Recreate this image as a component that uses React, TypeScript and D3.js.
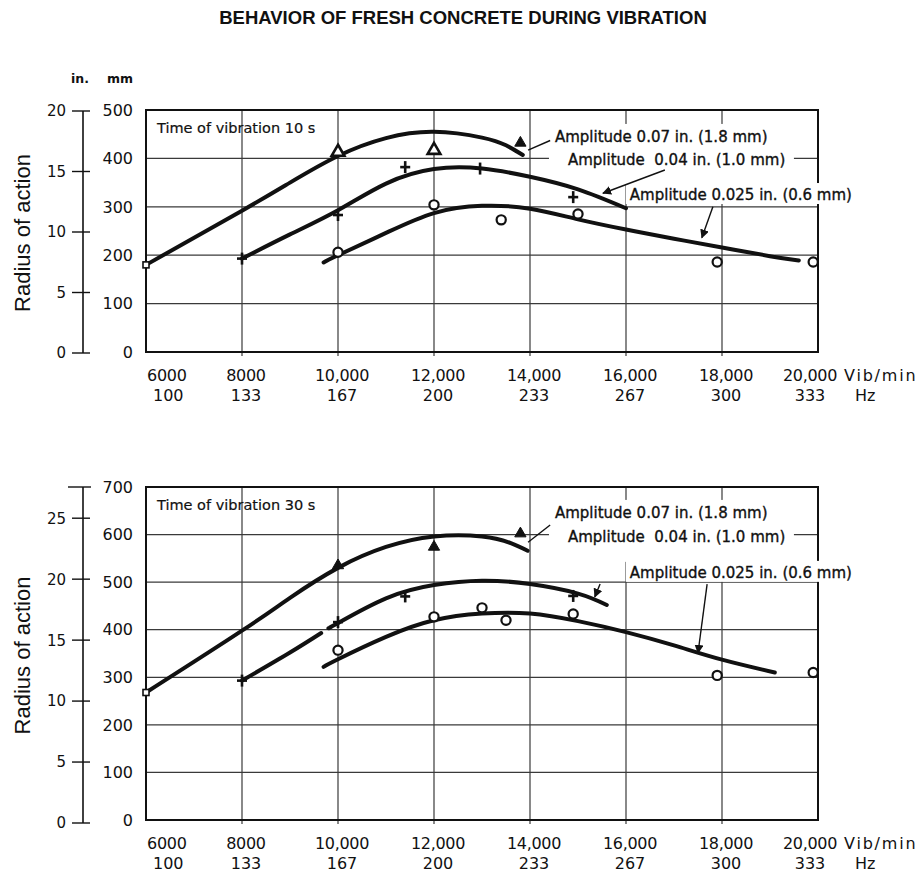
import React from 'react';
import * as d3 from 'd3';

type P = [number, number];

// ---------- axes ----------
const VIB_TICKS = [6000, 8000, 10000, 12000, 14000, 16000, 18000, 20000];
const VIB_LABELS = ['6000', '8000', '10,000', '12,000', '14,000', '16,000', '18,000', '20,000'];
const HZ_LABELS = ['100', '133', '167', '200', '233', '267', '300', '333'];
const GRID_VIB = [8000, 10000, 12000, 14000, 16000, 18000];

const MM_TICKS_10 = [0, 100, 200, 300, 400, 500];
const IN_TICKS_10 = [0, 5, 10, 15, 20];
const MM_TICKS_30 = [0, 100, 200, 300, 400, 500, 600, 700];
const IN_TICKS_30 = [0, 5, 10, 15, 20, 25];

const AMP_LABELS = ['Amplitude 0.07 in. (1.8 mm)', 'Amplitude  0.04 in. (1.0 mm)', 'Amplitude 0.025 in. (0.6 mm)'];

// ---------- Time of vibration 10 s ----------
const CURVE_07_10: P[] = [[6000, 180], [8000, 292], [9000, 350], [10000, 405], [11000, 442], [12000, 455], [13000, 443], [13500, 427], [13850, 407]];
const CURVE_04_10: P[] = [[8000, 193], [9000, 243], [10000, 293], [11000, 348], [12000, 378], [13000, 379], [14000, 362], [15000, 336], [16000, 297]];
const CURVE_025_10: P[] = [[9700, 185], [10000, 200], [11000, 246], [12000, 287], [13000, 302], [14000, 296], [15000, 274], [16000, 253], [17000, 234], [18000, 216], [19000, 198], [19600, 189]];
const SQUARE_10: P[] = [[6000, 180]];
const TRI_OPEN_10: P[] = [[10000, 413], [12000, 417]];
const TRI_FILLED_10: P[] = [[13800, 432]];
const PLUS_10: P[] = [[8000, 193], [10000, 283], [11400, 382], [12960, 379], [14900, 320]];
const CIRCLE_10: P[] = [[10000, 206], [12000, 304], [13400, 273], [15000, 285], [17900, 186], [19900, 186]];
const LABEL_POS_10: P[] = [[14520, 434], [14790, 386], [16080, 314]];
const ARROW_FROM_10: P[] = [[14420, 437], [16810, 376], [17810, 300]];
const ARROW_TO_10: P[] = [[13960, 417], [15520, 328], [17580, 236]];

// ---------- Time of vibration 30 s ----------
const CURVE_07_30: P[] = [[6000, 268], [8000, 398], [9000, 467], [10000, 530], [11000, 574], [12000, 596], [13000, 596], [13600, 582], [13950, 566]];
const CURVE_04_30_A: P[] = [[8000, 293], [9000, 352], [9650, 393]];
const CURVE_04_30_B: P[] = [[9800, 403], [10000, 414], [11000, 466], [12000, 494], [13000, 503], [14000, 496], [15000, 476], [15600, 452]];
const CURVE_025_30: P[] = [[9700, 322], [10000, 338], [11000, 385], [12000, 420], [13000, 434], [14000, 434], [15000, 418], [16000, 395], [17000, 367], [18000, 337], [19100, 310]];
const SQUARE_30: P[] = [[6000, 268]];
const TRI_OPEN_30: P[] = [];
const TRI_FILLED_30: P[] = [[10000, 535], [12000, 574], [13800, 602]];
const PLUS_30: P[] = [[8000, 293], [10000, 416], [11400, 470], [14900, 471]];
const CIRCLE_30: P[] = [[10000, 357], [12000, 427], [13000, 446], [13500, 420], [14900, 433], [17900, 304], [19900, 310]];
const LABEL_POS_30: P[] = [[14520, 635], [14790, 584], [16080, 509]];
const ARROW_FROM_30: P[] = [[14420, 620], [15460, 496], [17690, 496]];
const ARROW_TO_30: P[] = [[13960, 584], [15350, 469], [17500, 351]];

const W = 920;
const H = 873;
const INK = '#111';
const GRID = '#3a3a3a';
const SANS = '"DejaVu Sans", Verdana, sans-serif';
const HELV = '"Liberation Sans", Arial, Helvetica, sans-serif';

const x = d3.scaleLinear().domain([6000, 20000]).range([146, 818]);

interface PanelCfg {
  id: string;
  top: number;
  bottom: number;
  mmMax: number;
  mmTicks: number[];
  inMax: number;
  inRange: [number, number];
  inTicks: number[];
  time: string;
  showUnits: boolean;
  curves: P[][];
  square: P[];
  triOpen: P[];
  triFilled: P[];
  plus: P[];
  circle: P[];
  labelPos: P[];
  arrowFrom: P[];
  arrowTo: P[];
}

function Panel({ c }: { c: PanelCfg }) {
  const y = d3.scaleLinear().domain([0, c.mmMax]).range([c.bottom, c.top]);
  const yin = d3.scaleLinear().domain([0, c.inMax]).range(c.inRange);
  const line = d3
    .line<P>()
    .x((d) => x(d[0]))
    .y((d) => y(d[1]))
    .curve(d3.curveNatural);
  const left = x(6000);
  const right = x(20000);
  const inAxisX = 83;
  const triPath = d3.symbol(d3.symbolTriangle, 70)()!;
  const triFilledPath = d3.symbol(d3.symbolTriangle, 55)()!;

  const lp = c.labelPos.map((p) => [x(p[0]), y(p[1])] as [number, number]);
  const inEnd = yin(c.inMax);

  return (
    <g>
      {/* inch axis */}
      <line x1={inAxisX} x2={inAxisX} y1={yin(0)} y2={inEnd} stroke={INK} strokeWidth={1.6} />
      {c.inTicks.map((t) => (
        <g key={'in' + t}>
          <line x1={inAxisX - 11} x2={inAxisX + 7} y1={yin(t)} y2={yin(t)} stroke={INK} strokeWidth={1.4} />
          <text x={inAxisX - 17} y={yin(t)} dy="0.36em" textAnchor="end" fontFamily={SANS} fontSize={15} fill={INK}>
            {t}
          </text>
        </g>
      ))}
      {!c.inTicks.includes(c.inMax) && (
        <line x1={inAxisX - 15} x2={inAxisX + 8} y1={inEnd} y2={inEnd} stroke={INK} strokeWidth={1.4} />
      )}
      {c.showUnits && (
        <g fontFamily={SANS} fontSize={12.5} fontWeight="bold" fill={INK}>
          <text x={80} y={83} textAnchor="middle">in.</text>
          <text x={120} y={83} textAnchor="middle">mm</text>
        </g>
      )}
      <text
        transform={`translate(${30},${(c.top + c.bottom) / 2 + 2}) rotate(-90)`}
        textAnchor="middle"
        fontFamily={HELV}
        fontSize={22}
        fill={INK}
      >
        Radius of action
      </text>

      {/* mm labels */}
      {c.mmTicks.map((t) => (
        <text key={'mm' + t} x={133} y={y(t)} dy="0.36em" textAnchor="end" fontFamily={SANS} fontSize={16} fill={INK}>
          {t}
        </text>
      ))}

      {/* grid */}
      {c.mmTicks
        .filter((t) => t > 0 && t < c.mmMax)
        .map((t) => (
          <line key={'gh' + t} x1={left} x2={right} y1={y(t)} y2={y(t)} stroke={GRID} strokeWidth={1.2} />
        ))}
      {GRID_VIB.map((v) => (
        <line key={'gv' + v} x1={x(v)} x2={x(v)} y1={c.top} y2={c.bottom + 4} stroke={GRID} strokeWidth={1.2} />
      ))}
      <rect x={left} y={c.top} width={right - left} height={c.bottom - c.top} fill="none" stroke={INK} strokeWidth={2} />

      {/* white areas behind annotation texts */}
      <rect x={lp[0][0] - 6} y={lp[0][1] - 18} width={lp[1][0] + 226 - (lp[0][0] - 6)} height={lp[2][1] - 16 - (lp[0][1] - 18)} fill="#fff" />
      <rect x={lp[2][0] - 4} y={lp[2][1] - 17} width={236} height={21} fill="#fff" />

      {/* x labels */}
      {VIB_TICKS.map((v, i) => {
        const first = i === 0;
        const last = i === VIB_TICKS.length - 1;
        const tx = first ? x(v) + 1 : last ? x(v) - 8 : x(v) + 4;
        const anchor = first ? 'start' : 'middle';
        return (
          <g key={'xl' + v} fontFamily={SANS} fontSize={16} fill={INK} textAnchor={anchor}>
            <text x={tx} y={c.bottom + 29} letterSpacing={-0.3}>{VIB_LABELS[i]}</text>
            <text x={first ? tx + 6 : tx} y={c.bottom + 49}>{HZ_LABELS[i]}</text>
          </g>
        );
      })}
      <text x={844} y={c.bottom + 29} fontFamily={SANS} fontSize={16} letterSpacing={1.8} fill={INK}>Vib/min</text>
      <text x={855} y={c.bottom + 49} fontFamily={SANS} fontSize={16} fill={INK}>Hz</text>

      <text x={157} y={c.top + 23} fontFamily={SANS} fontSize={14.5} fill={INK} stroke={INK} strokeWidth={0.2}>
        {c.time}
      </text>

      {/* curves */}
      {c.curves.map((cv, i) => (
        <path key={'cv' + i} d={line(cv)!} fill="none" stroke={INK} strokeWidth={4} strokeLinecap="round" strokeLinejoin="round" />
      ))}

      {/* markers */}
      {c.square.map((p, i) => (
        <rect key={'sq' + i} x={x(p[0]) - 3} y={y(p[1]) - 3} width={6} height={6} fill="#fff" stroke={INK} strokeWidth={1.6} />
      ))}
      {c.triOpen.map((p, i) => (
        <path key={'to' + i} d={triPath} transform={`translate(${x(p[0])},${y(p[1])})`} fill="#fff" stroke={INK} strokeWidth={2.6} />
      ))}
      {c.triFilled.map((p, i) => (
        <path key={'tf' + i} d={triFilledPath} transform={`translate(${x(p[0])},${y(p[1])})`} fill={INK} stroke={INK} strokeWidth={1} />
      ))}
      {c.plus.map((p, i) => (
        <g key={'pl' + i} stroke={INK} strokeWidth={2.6}>
          <line x1={x(p[0]) - 5} x2={x(p[0]) + 5} y1={y(p[1])} y2={y(p[1])} />
          <line x1={x(p[0])} x2={x(p[0])} y1={y(p[1]) - 6} y2={y(p[1]) + 6} />
        </g>
      ))}
      {c.circle.map((p, i) => (
        <circle key={'ci' + i} cx={x(p[0])} cy={y(p[1])} r={4.6} fill="#fff" stroke={INK} strokeWidth={2.2} />
      ))}

      {/* annotations */}
      {AMP_LABELS.map((t, i) => (
        <text
          key={'al' + i}
          x={lp[i][0]}
          y={lp[i][1]}
          fontFamily={SANS}
          fontSize={15}
          fill={INK}
          stroke={INK}
          strokeWidth={0.35}
          style={{ whiteSpace: 'pre' }}
        >
          {t}
        </text>
      ))}
      {c.arrowFrom.map((p, i) => (
        <line
          key={'ar' + i}
          x1={x(p[0])}
          y1={y(p[1])}
          x2={x(c.arrowTo[i][0])}
          y2={y(c.arrowTo[i][1])}
          stroke={INK}
          strokeWidth={1.4}
          markerEnd={i === 0 ? undefined : `url(#head-${c.id})`}
        />
      ))}
      <defs>
        <marker id={`head-${c.id}`} viewBox="0 0 10 10" refX={9} refY={5} markerWidth={9} markerHeight={9} markerUnits="userSpaceOnUse" orient="auto">
          <path d="M0,0 L10,5 L0,10 z" fill={INK} />
        </marker>
      </defs>
    </g>
  );
}

const PANEL_10: PanelCfg = {
  id: 'p10',
  top: 110,
  bottom: 352,
  mmMax: 500,
  mmTicks: MM_TICKS_10,
  inMax: 20,
  inRange: [353, 111],
  inTicks: IN_TICKS_10,
  time: 'Time of vibration 10 s',
  showUnits: true,
  curves: [CURVE_07_10, CURVE_04_10, CURVE_025_10],
  square: SQUARE_10,
  triOpen: TRI_OPEN_10,
  triFilled: TRI_FILLED_10,
  plus: PLUS_10,
  circle: CIRCLE_10,
  labelPos: LABEL_POS_10,
  arrowFrom: ARROW_FROM_10,
  arrowTo: ARROW_TO_10,
};

const PANEL_30: PanelCfg = {
  id: 'p30',
  top: 487,
  bottom: 820,
  mmMax: 700,
  mmTicks: MM_TICKS_30,
  inMax: 700 / 25.4,
  inRange: [823, 487],
  inTicks: IN_TICKS_30,
  time: 'Time of vibration 30 s',
  showUnits: false,
  curves: [CURVE_07_30, CURVE_04_30_A, CURVE_04_30_B, CURVE_025_30],
  square: SQUARE_30,
  triOpen: TRI_OPEN_30,
  triFilled: TRI_FILLED_30,
  plus: PLUS_30,
  circle: CIRCLE_30,
  labelPos: LABEL_POS_30,
  arrowFrom: ARROW_FROM_30,
  arrowTo: ARROW_TO_30,
};

export default function App() {
  return (
    <svg
      width={W}
      height={H}
      viewBox={`0 0 ${W} ${H}`}
      style={{ position: 'absolute', left: 0, top: 0, background: '#fff', display: 'block' }}
    >
      <rect width={W} height={H} fill="#fff" />
      <text x={463} y={24} textAnchor="middle" fontFamily={HELV} fontWeight="bold" fontSize={18.5} fill={INK}>
        BEHAVIOR OF FRESH CONCRETE DURING VIBRATION
      </text>
      <Panel c={PANEL_10} />
      <Panel c={PANEL_30} />
    </svg>
  );
}
